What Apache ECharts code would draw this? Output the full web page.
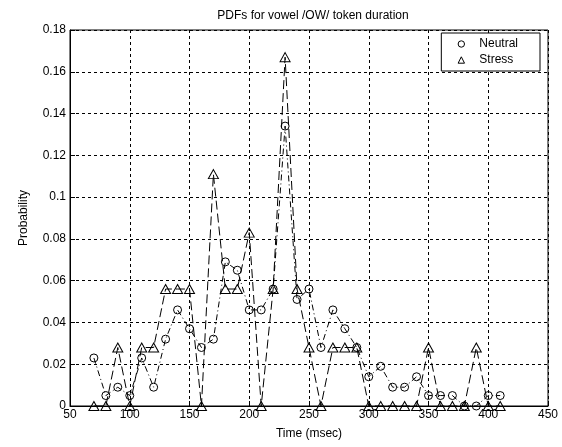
<!DOCTYPE html>
<html>
<head>
<meta charset="utf-8">
<script src="https://cdn.jsdelivr.net/npm/echarts@6/dist/echarts.min.js"></script>
<style>html,body{margin:0;padding:0;background:#fff;}#c{width:562px;height:447px;}</style>
</head>
<body>
<div id="c"></div>
<script>
const times = [70,80,90,100,110,120,130,140,150,160,170,180,190,200,210,220,230,240,250,260,270,280,290,300,310,320,330,340,350,360,370,380,390,400,410];
const neutral = [0.023,0.005,0.009,0.005,0.023,0.009,0.032,0.046,0.037,0.028,0.032,0.069,0.065,0.046,0.046,0.056,0.134,0.051,0.056,0.028,0.046,0.037,0.028,0.014,0.019,0.009,0.009,0.014,0.005,0.005,0.005,0,0,0.005,0.005];
const stress = [0,0,0.028,0,0.028,0.028,0.056,0.056,0.056,0,0.111,0.056,0.056,0.083,0,0.056,0.167,0.056,0.028,0,0.028,0.028,0.028,0,0,0,0,0,0.028,0,0,0,0.028,0,0];
const xTicks = [50,100,150,200,250,300,350,400,450];
const yTicks = [0,0.02,0.04,0.06,0.08,0.1,0.12,0.14,0.16,0.18];

const FONT = 'Liberation Sans, Arial, sans-serif';
const chart = echarts.init(document.getElementById('c'), null, {renderer: 'canvas'});
const pair = (vals) => times.map((t, i) => [t, vals[i]]);
chart.setOption({
  backgroundColor: '#fff',
  animation: false,
  title: {
    text: 'PDFs for vowel /OW/ token duration',
    left: 308, textAlign: 'center', top: 5,
    textStyle: {fontFamily: FONT, fontSize: 12, fontWeight: 'normal', color: '#000'}
  },
  grid: {left: 70, right: 14, top: 30, bottom: 41, show: true, borderColor: '#000', borderWidth: 1, backgroundColor: '#fff'},
  legend: {
    orient: 'vertical', right: 22, top: 33,
    backgroundColor: '#fff', borderColor: '#000', borderWidth: 1, borderRadius: 0,
    padding: [5, 22, 5, 14], itemGap: 4, itemWidth: 10, itemHeight: 8,
    textStyle: {fontFamily: FONT, fontSize: 12, color: '#000', padding: [0, 0, 0, 8]},
    itemStyle: {color: 'rgba(255,255,255,0)', borderColor: '#000', borderWidth: 1},
    lineStyle: {opacity: 0},
    data: ['Neutral', 'Stress']
  },
  xAxis: {
    type: 'value', min: 50, max: 450, interval: 50,
    name: 'Time (msec)', nameLocation: 'middle', nameGap: 22,
    nameTextStyle: {fontFamily: FONT, fontSize: 12, color: '#000'},
    axisLine: {show: true, onZero: false, lineStyle: {color: '#000'}},
    axisTick: {show: true, inside: true, length: 5, lineStyle: {color: '#000'}},
    axisLabel: {fontFamily: FONT, fontSize: 12, color: '#000', margin: 3},
    splitLine: {show: true, lineStyle: {color: '#000', type: [3, 3], width: 1}}
  },
  yAxis: {
    type: 'value', min: 0, max: 0.18, interval: 0.02,
    name: 'Probability', nameLocation: 'middle', nameGap: 40, nameRotate: 90,
    nameTextStyle: {fontFamily: FONT, fontSize: 12, color: '#000'},
    axisLine: {show: true, lineStyle: {color: '#000'}},
    axisTick: {show: true, inside: true, length: 5, lineStyle: {color: '#000'}},
    axisLabel: {fontFamily: FONT, fontSize: 12, color: '#000', margin: 4,
      formatter: v => String(+v.toFixed(2))},
    splitLine: {show: true, lineStyle: {color: '#000', type: [3, 3], width: 1}}
  },
  series: [
    {
      name: 'Neutral', type: 'line', data: pair(neutral),
      symbol: 'circle', symbolSize: 8, showAllSymbol: true,
      itemStyle: {color: 'rgba(255,255,255,0)', borderColor: '#000', borderWidth: 1},
      lineStyle: {color: '#000', width: 1, type: [6, 3, 1, 3]}
    },
    {
      name: 'Stress', type: 'line', data: pair(stress),
      symbol: 'triangle', symbolSize: [10, 9], showAllSymbol: true,
      itemStyle: {color: 'rgba(255,255,255,0)', borderColor: '#000', borderWidth: 1},
      lineStyle: {color: '#000', width: 1, type: [9, 4]}
    }
  ]
});
</script>
</body>
</html>
